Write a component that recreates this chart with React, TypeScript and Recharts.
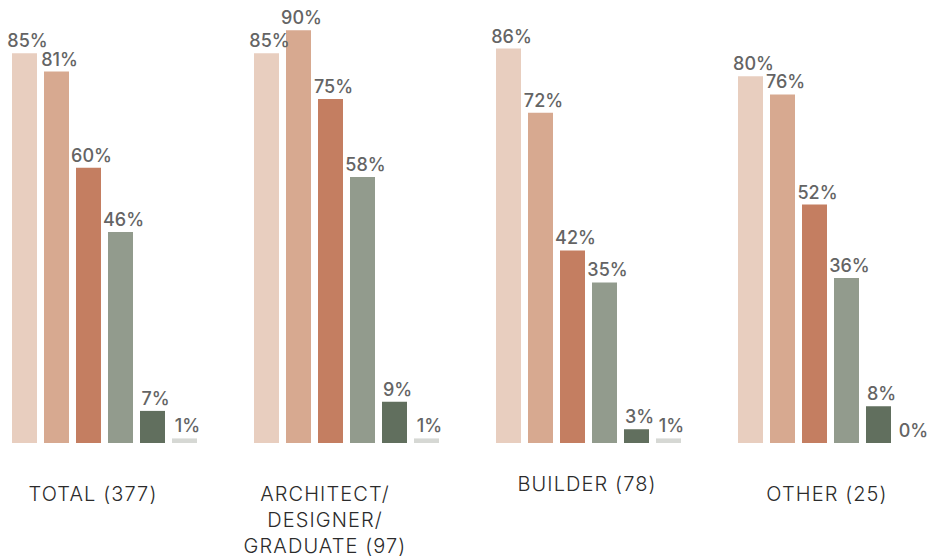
import { BarChart, Bar, XAxis, YAxis, LabelList } from "recharts";

const categories = [
  "TOTAL (377)",
  "ARCHITECT/\nDESIGNER/\nGRADUATE (97)",
  "BUILDER (78)",
  "OTHER (25)",
];

// six answer series, one value per category (percent)
const series1 = [85, 85, 86, 80];
const series2 = [81, 90, 72, 76];
const series3 = [60, 75, 42, 52];
const series4 = [46, 58, 35, 36];
const series5 = [7, 9, 3, 8];
const series6 = [1, 1, 1, 0];

const seriesColors = ["#e8cebf", "#d7a990", "#c47e61", "#929b8d", "#616f5e", "#d6d8d4"];

const data = categories.map((name, i) => ({
  name,
  s1: series1[i],
  s2: series2[i],
  s3: series3[i],
  s4: series4[i],
  s5: series5[i],
  s6: series6[i],
}));

// small nudges so the labels sit where the original puts them
const tickShift = [
  { dx: -11, dy: 0 },
  { dx: -21, dy: 0 },
  { dx: -1, dy: -10 },
  { dx: -3, dy: 0 },
];

function CategoryTick(props: any) {
  const { x, y, payload, index } = props;
  const lines = String(payload.value).split("\n");
  const shift = tickShift[index] || { dx: 0, dy: 0 };
  return (
    <g transform={`translate(${x + shift.dx},${y + shift.dy})`}>
      {lines.map((line, i) => (
        <text
          key={i}
          x={0}
          y={50 + i * 26}
          textAnchor="middle"
          fill="#2b2b2b"
          fontFamily="Inter, Lato, sans-serif"
          fontWeight={300}
          fontSize={20}
          letterSpacing={1.1}
        >
          {line}
        </text>
      ))}
    </g>
  );
}

// tiny non-zero size for 0 values so the "0%" label is still drawn
const pointSize = (value: any) => (value === 0 ? 0.01 : 0);

export default function App() {
  const keys = ["s1", "s2", "s3", "s4", "s5", "s6"];
  return (
    <div
      style={{
        position: "absolute",
        left: 0,
        top: 0,
        width: 929,
        height: 557,
        overflow: "hidden",
        background: "#fff",
      }}
    >
      <div style={{ position: "absolute", left: -17, top: 0 }}>
        <BarChart
          width={968}
          height={557}
          data={data}
          margin={{ top: 0, right: 0, left: 0, bottom: 14 }}
          barSize={25}
          barGap={7}
        >
          <XAxis
            dataKey="name"
            axisLine={false}
            tickLine={false}
            height={100}
            interval={0}
            tick={<CategoryTick />}
          />
          <YAxis hide domain={[0, 96.6]} />
          {keys.map((k, i) => (
            <Bar
              key={k}
              dataKey={k}
              fill={seriesColors[i]}
              minPointSize={pointSize as any}
              isAnimationActive={false}
            >
              <LabelList
                dataKey={k}
                position="top"
                offset={6}
                dx={3}
                formatter={(v: any) => `${v}%`}
                fill="#646464"
                fontFamily="Inter, Lato, sans-serif"
                fontWeight={500}
                fontSize={18}
              />
            </Bar>
          ))}
        </BarChart>
      </div>
    </div>
  );
}
